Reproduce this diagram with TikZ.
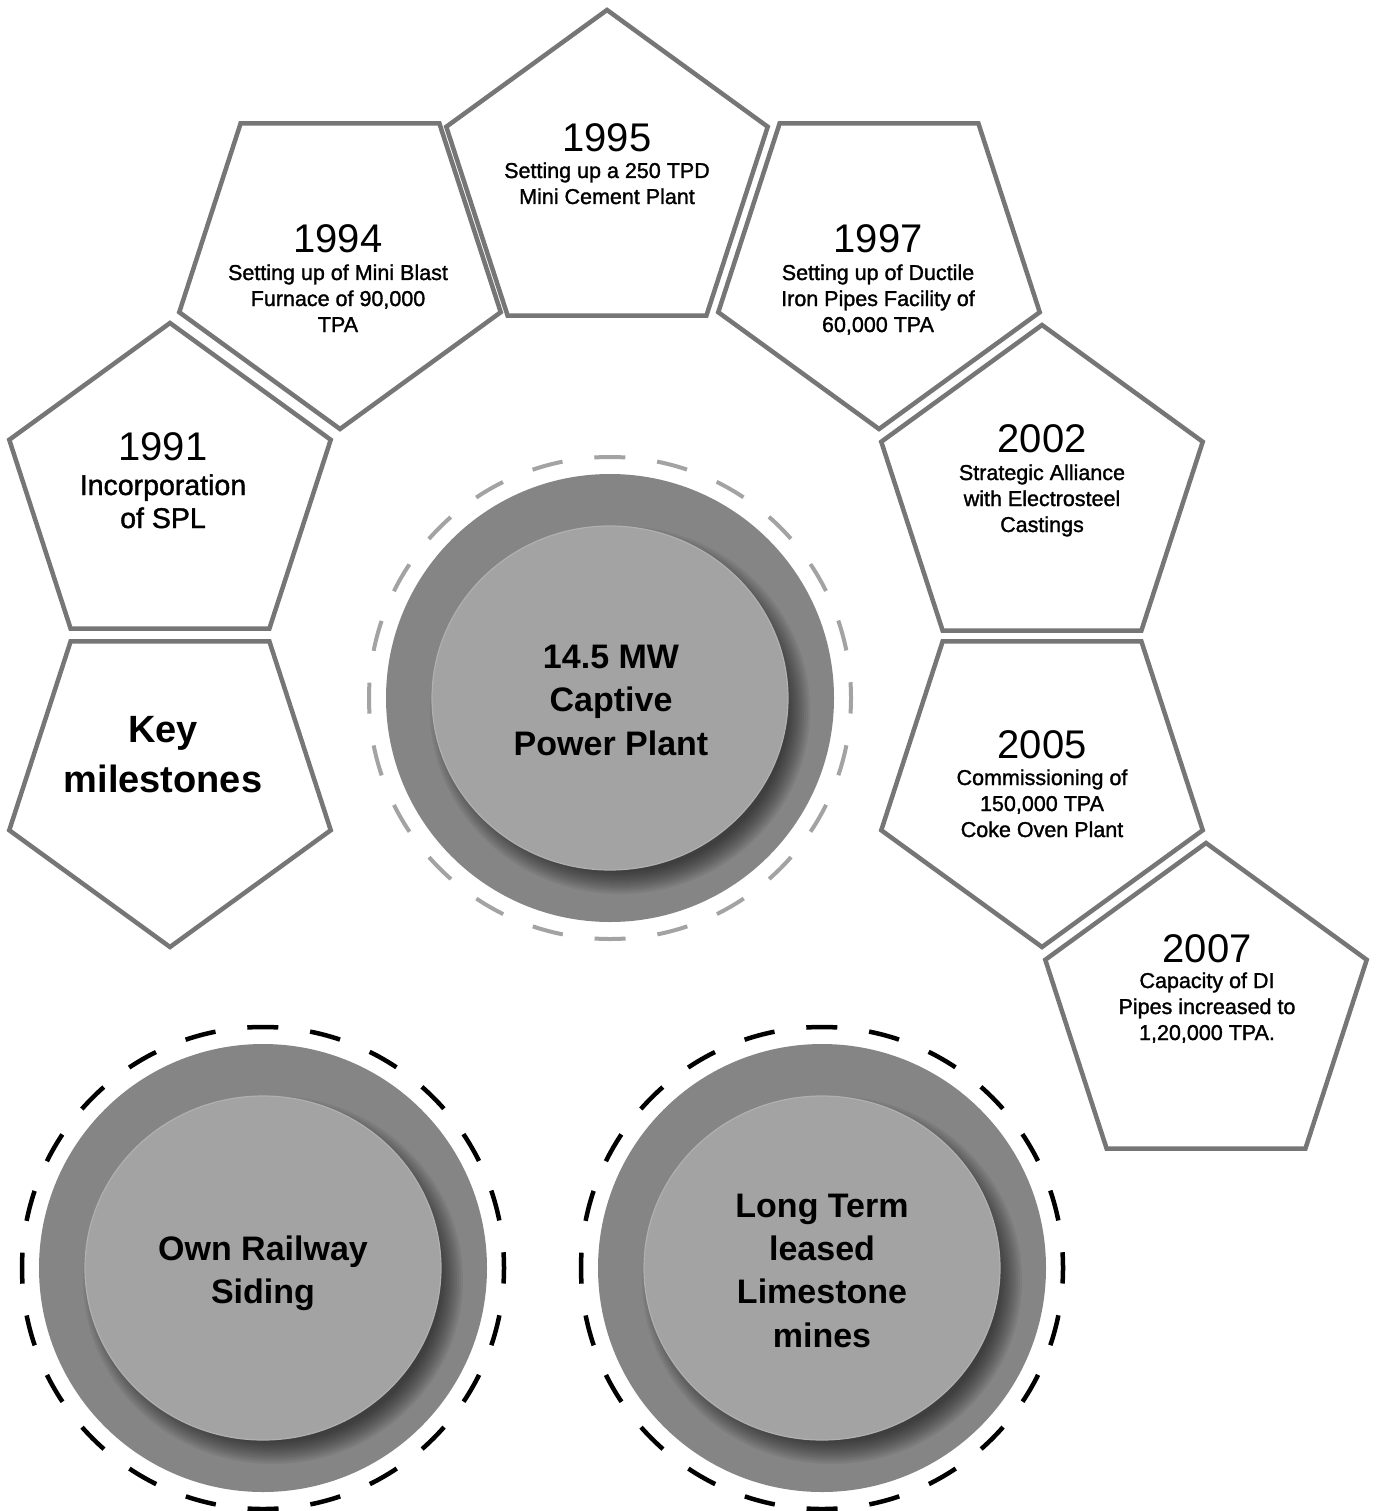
\documentclass[tikz,border=0pt]{standalone}
\usepackage{fontspec}
\setmainfont{Liberation Sans}
\newfontfamily\medfont[FakeBold=1.4]{Liberation Sans}
\usetikzlibrary{shapes.geometric}
\definecolor{pentline}{HTML}{767676}
\definecolor{ringdark}{HTML}{858585}
\definecolor{ringlight}{HTML}{A3A3A3}
\definecolor{dashgray}{HTML}{A3A3A3}
\definecolor{innerrim}{HTML}{B0B0B0}
\tikzset{
  pentup/.style={regular polygon, regular polygon sides=5, minimum size=338pt,
    inner sep=0pt, draw=pentline, line width=4.5pt, fill=white},
  pentdown/.style={pentup, shape border rotate=180},
  txt/.style={anchor=base, inner sep=0pt, text=black},
  yr/.style={txt, font=\fontsize{40}{48}\selectfont},
  ds/.style={txt, font=\medfont\fontsize{21.5}{26}\selectfont},
  dsbig/.style={txt, font=\medfont\fontsize{28.5}{34}\selectfont},
  keyt/.style={txt, font=\bfseries\fontsize{38}{46}\selectfont},
  bt/.style={txt, font=\bfseries\fontsize{34}{41}\selectfont},
  outerdisk/.style={fill=ringdark},
  innerdisk/.style={fill=ringlight, draw=innerrim, line width=1.2pt},
  graydash/.style={draw=dashgray, line width=4pt, dash pattern=on 31pt off 32.09pt, dash phase=15.5pt},
  blackdash/.style={draw=black, line width=4.5pt, dash pattern=on 31pt off 32.09pt, dash phase=15.5pt},
}
\newcommand\featuredisk{%
  \fill[outerdisk] (0,0) circle[radius=224];
  \foreach \i in {1,...,12}{
    \fill[black, opacity=0.055] (10,12) ellipse[x radius={178+14-2*\i}, y radius={172+14-2*\i}];
  }
  \path[innerdisk] (0,0) ellipse[x radius=178, y radius=172];
}
\begin{document}
\begin{tikzpicture}[x=1pt,y=-1pt]
\fill[white] (0,0) rectangle (1380,1511);
\useasboundingbox (0,0) rectangle (1380,1511);

% ---------------- pentagons ----------------
\node[pentup]   (p1991) at (170,492)  {};
\node[pentdown] (pkey)  at (170,778)  {};
\node[pentdown] (p1994) at (340,260)  {};
\node[pentup]   (p1995) at (607,179)  {};
\node[pentdown] (p1997) at (879,260)  {};
\node[pentup]   (p2002) at (1042,494) {};
\node[pentdown] (p2005) at (1042,778) {};
\node[pentup]   (p2007) at (1206,1012) {};

% 1991
\node[yr]    (y1991)  at (163,460) {1991};
\node[dsbig] (d1991a) at (163,495) {Incorporation};
\node[dsbig] (d1991b) at (163,528) {of SPL};
% Key milestones
\node[keyt] (keya) at (163,742) {Key};
\node[keyt] (keyb) at (163,792) {milestones};
% 1994
\node[yr] (y1994)  at (338,253) {1994};
\node[ds] (d1994a) at (338,280) {Setting up of Mini Blast};
\node[ds] (d1994b) at (338,306) {Furnace of 90,000};
\node[ds] (d1994c) at (338,332) {TPA};
% 1995
\node[yr] (y1995)  at (607,152) {1995};
\node[ds] (d1995a) at (607,178) {Setting up a 250 TPD};
\node[ds] (d1995b) at (607,204) {Mini Cement Plant};
% 1997
\node[yr] (y1997)  at (878,253) {1997};
\node[ds] (d1997a) at (878,280) {Setting up of Ductile};
\node[ds] (d1997b) at (878,306) {Iron Pipes Facility of};
\node[ds] (d1997c) at (878,332) {60,000 TPA};
% 2002
\node[yr] (y2002)  at (1042,452) {2002};
\node[ds] (d2002a) at (1042,480) {Strategic Alliance};
\node[ds] (d2002b) at (1042,506) {with Electrosteel};
\node[ds] (d2002c) at (1042,532) {Castings};
% 2005
\node[yr] (y2005)  at (1042,758) {2005};
\node[ds] (d2005a) at (1042,785) {Commissioning of};
\node[ds] (d2005b) at (1042,811) {150,000 TPA};
\node[ds] (d2005c) at (1042,837) {Coke Oven Plant};
% 2007
\node[yr] (y2007)  at (1207,962) {2007};
\node[ds] (d2007a) at (1207,988) {Capacity of DI};
\node[ds] (d2007b) at (1207,1014) {Pipes increased to};
\node[ds] (d2007c) at (1207,1040) {1,20,000 TPA.};

% ---------------- circles ----------------
\begin{scope}[shift={(610,698)}]
  \featuredisk
  \path[graydash] (0,0) circle[radius=241];
\end{scope}
\node[bt] (cppa) at (611,668) {14.5 MW};
\node[bt] (cppb) at (611,711) {Captive};
\node[bt] (cppc) at (611,755) {Power Plant};

\begin{scope}[shift={(263,1268)}]
  \featuredisk
  \path[blackdash] (0,0) circle[radius=241];
\end{scope}
\node[bt] (raila) at (263,1260) {Own Railway};
\node[bt] (railb) at (263,1303) {Siding};

\begin{scope}[shift={(822,1268)}]
  \featuredisk
  \path[blackdash] (0,0) circle[radius=241];
\end{scope}
\node[bt] (limea) at (822,1217) {Long Term};
\node[bt] (limeb) at (822,1260) {leased};
\node[bt] (limec) at (822,1303) {Limestone};
\node[bt] (limed) at (822,1347) {mines};
\end{tikzpicture}
\end{document}
